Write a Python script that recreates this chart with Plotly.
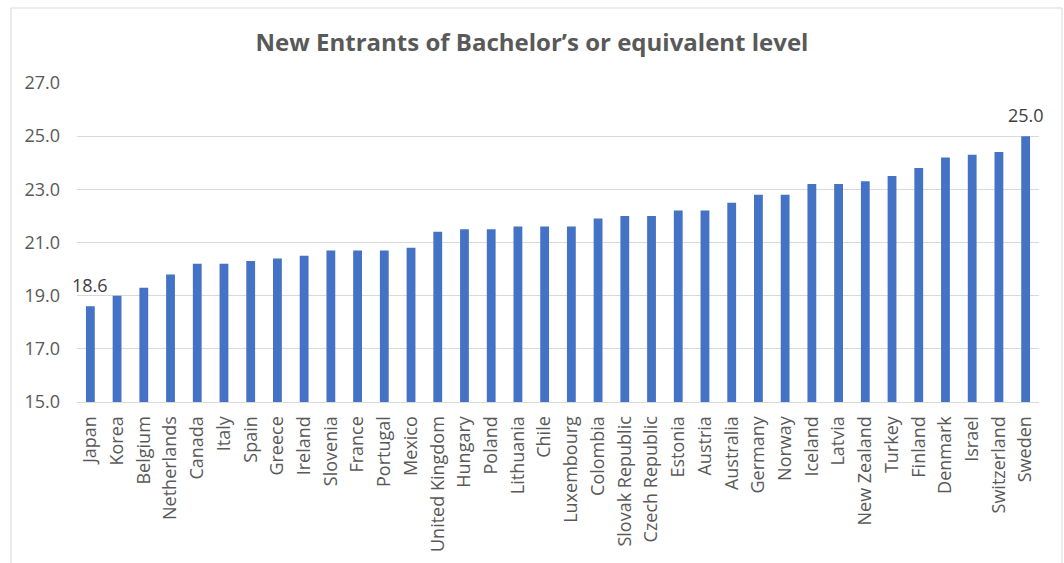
import plotly.graph_objects as go

# New entrants to bachelor's or equivalent level, by country (ascending)
countries = [
    "Japan", "Korea", "Belgium", "Netherlands", "Canada", "Italy", "Spain",
    "Greece", "Ireland", "Slovenia", "France", "Portugal", "Mexico",
    "United Kingdom", "Hungary", "Poland", "Lithuania", "Chile", "Luxembourg",
    "Colombia", "Slovak Republic", "Czech Republic", "Estonia", "Austria",
    "Australia", "Germany", "Norway", "Iceland", "Latvia", "New Zealand",
    "Turkey", "Finland", "Denmark", "Israel", "Switzerland", "Sweden",
]
values = [
    18.6, 19.0, 19.3, 19.8, 20.2, 20.2, 20.3,
    20.4, 20.5, 20.7, 20.7, 20.7, 20.8,
    21.4, 21.5, 21.5, 21.6, 21.6, 21.6,
    21.9, 22.0, 22.0, 22.2, 22.2,
    22.5, 22.8, 22.8, 23.2, 23.2, 23.3,
    23.5, 23.8, 24.2, 24.3, 24.4, 25.0,
]
y_ticks = [15.0, 17.0, 19.0, 21.0, 23.0, 25.0, 27.0]

FONT = "Open Sans"
GREY = "#595959"

fig = go.Figure(
    go.Bar(
        x=countries,
        y=values,
        base=0,
        marker=dict(color="#4472C4", line=dict(width=0)),
        hoverinfo="x+y",
    )
)

# value labels on the lowest and highest bars
for idx in (0, len(countries) - 1):
    fig.add_annotation(
        x=countries[idx],
        y=values[idx],
        text=f"{values[idx]:.1f}",
        showarrow=False,
        xanchor="center",
        yanchor="bottom",
        yshift=7,
        font=dict(family=FONT, size=18, color="#404040"),
    )

fig.update_layout(
    width=1064,
    height=563,
    margin=dict(l=77, r=25, t=83, b=161, autoexpand=False),
    paper_bgcolor="white",
    plot_bgcolor="white",
    bargap=0.67,
    showlegend=False,
    title=dict(
        text="<b>New Entrants of Bachelor\u2019s or equivalent level</b>",
        x=0.5,
        xanchor="center",
        y=1 - 43 / 563,
        yanchor="middle",
        font=dict(family=FONT, size=24, color=GREY),
    ),
    xaxis=dict(
        automargin=False,
        range=[-0.5, len(countries) - 0.5],
        tickangle=-90,
        tickfont=dict(family=FONT, size=18, color=GREY),
        showgrid=False,
        showline=True,
        linecolor="#D9D9D9",
        linewidth=1,
        ticks="",
        ticklabelstandoff=6,
    ),
    yaxis=dict(
        automargin=False,
        range=[15, 27],
        tickvals=y_ticks,
        ticktext=[f"{t:.1f}" for t in y_ticks],
        tickfont=dict(family=FONT, size=18, color=GREY),
        showgrid=True,
        gridcolor="#D9D9D9",
        gridwidth=1,
        zeroline=False,
        showline=False,
        ticks="",
        ticklabelstandoff=16,
    ),
    shapes=[
        # chart-area frame
        dict(
            type="rect",
            xref="paper",
            yref="paper",
            x0=(11 - 77) / 962,
            x1=(1062 - 77) / 962,
            y0=(402 - 575) / 319,
            y1=(402 - 8) / 319,
            line=dict(color="#D9D9D9", width=1),
            fillcolor="rgba(0,0,0,0)",
            layer="below",
        )
    ],
)

fig.write_html("out.html")
